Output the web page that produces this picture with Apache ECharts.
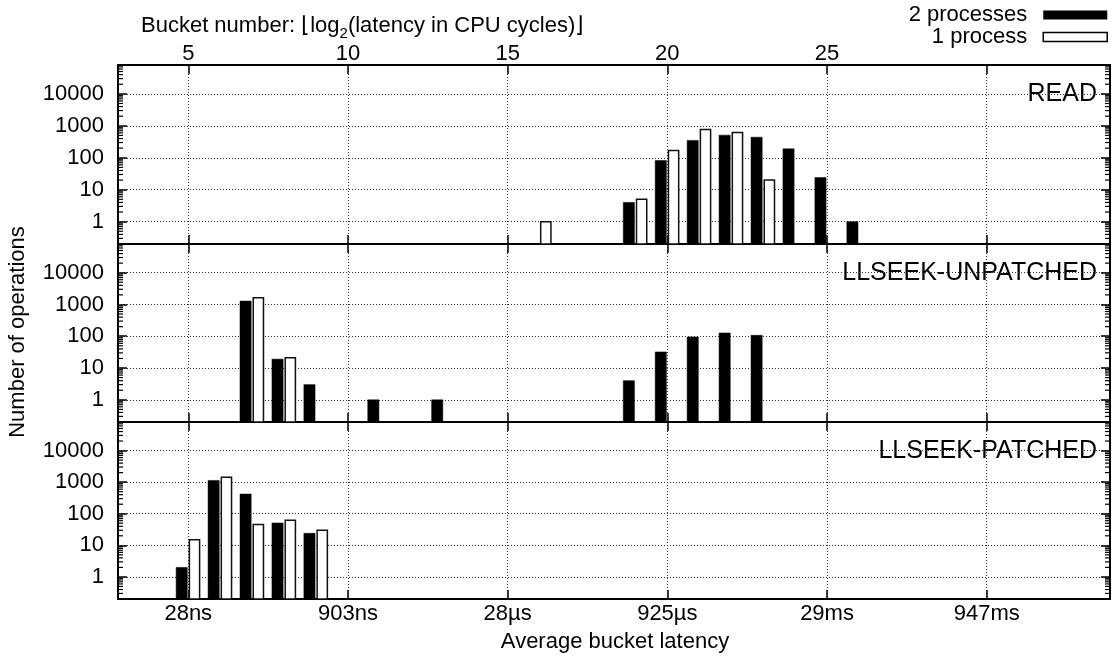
<!DOCTYPE html>
<html>
<head>
<meta charset="utf-8">
<script src="https://cdn.jsdelivr.net/npm/echarts@6/dist/echarts.min.js"></script>
<style>
  html, body { margin: 0; padding: 0; background: #fff; }
  #chart { width: 1114px; height: 657px; }
</style>
</head>
<body>
<div id="chart"></div>
<script>
// Operation counts per latency bucket (bucket = floor(log2(cycles)))
const PANEL_NAMES = ['READ', 'LLSEEK-UNPATCHED', 'LLSEEK-PATCHED'];

const READ_2P_BUCKETS = [19, 20, 21, 22, 23, 24, 25, 26];
const READ_2P_COUNTS  = [4, 82, 350, 510, 440, 190, 24, 1];
const READ_1P_BUCKETS = [16, 19, 20, 21, 22, 23];
const READ_1P_COUNTS  = [1, 5, 170, 770, 620, 20];

const UNPATCHED_2P_BUCKETS = [7, 8, 9, 11, 13, 19, 20, 21, 22, 23];
const UNPATCHED_2P_COUNTS  = [1280, 19, 3, 1, 1, 4, 32, 95, 127, 107];
const UNPATCHED_1P_BUCKETS = [7, 8];
const UNPATCHED_1P_COUNTS  = [1620, 21];

const PATCHED_2P_BUCKETS = [5, 6, 7, 8, 9];
const PATCHED_2P_COUNTS  = [2, 1130, 420, 51, 24];
const PATCHED_1P_BUCKETS = [5, 6, 7, 8, 9];
const PATCHED_1P_COUNTS  = [15, 1440, 46, 62, 30];

// Axis ticks and labels
const BUCKET_TICKS = [5, 10, 15, 20, 25, 30];
const BUCKET_LABELS = [5, 10, 15, 20, 25];
const LATENCY_LABELS = ['28ns', '903ns', '28\u00b5s', '925\u00b5s', '29ms', '947ms'];
const COUNT_TICKS = [1, 10, 100, 1000, 10000];
const MINOR_STEPS = [2, 3, 4, 5, 6, 7, 8, 9];
const DECADES = [0.1, 1, 10, 100, 1000, 10000];

const SERIES_2P = '2 processes';
const SERIES_1P = '1 process';

// ---- layout ----
const FONT = "'Liberation Sans', Arial, Helvetica, sans-serif";
const X_MIN = 2.8, X_MAX = 33.86;
const Y_MIN = 0.2, Y_MAX = 80000;
const PANEL_TOP = [65, 244, 422];
const PANEL_H = [179, 178, 177];
const PLOT_LEFT = 118, PLOT_RIGHT = 4;

const zip = (a, b) => a.map((v, i) => [v, b[i]]);
const panelData = [
  [zip(READ_2P_BUCKETS, READ_2P_COUNTS), zip(READ_1P_BUCKETS, READ_1P_COUNTS)],
  [zip(UNPATCHED_2P_BUCKETS, UNPATCHED_2P_COUNTS), zip(UNPATCHED_1P_BUCKETS, UNPATCHED_1P_COUNTS)],
  [zip(PATCHED_2P_BUCKETS, PATCHED_2P_COUNTS), zip(PATCHED_1P_BUCKETS, PATCHED_1P_COUNTS)]
];

// Bars sit on either side of the bucket position, rising from the panel floor
function barRenderer(lo, hi, style) {
  return function (params, api) {
    const b = api.value(0), c = api.value(1);
    const p0 = api.coord([b + lo, c]);
    const p1 = api.coord([b + hi, Y_MIN]);
    return {
      type: 'rect',
      shape: { x: p0[0], y: p0[1], width: p1[0] - p0[0], height: p1[1] - p0[1] },
      style: style
    };
  };
}

// Short log-scale minor ticks on the left and right frame edges
function minorTickRenderer(params, api) {
  const children = [];
  DECADES.forEach(d => {
    MINOR_STEPS.forEach(m => {
      const v = d * m;
      if (v <= Y_MIN || v >= Y_MAX) return;
      const l = api.coord([X_MIN, v]);
      const r = api.coord([X_MAX, v]);
      children.push({ type: 'line', shape: { x1: l[0], y1: l[1], x2: l[0] + 5, y2: l[1] }, style: { stroke: '#000', lineWidth: 1.2 } });
      children.push({ type: 'line', shape: { x1: r[0] - 5, y1: r[1], x2: r[0], y2: r[1] }, style: { stroke: '#000', lineWidth: 1.2 } });
    });
  });
  return { type: 'group', children: children };
}

const grids = [], xAxes = [], yAxes = [], series = [], graphics = [];
const tickStyle = { color: '#000', width: 1.5 };
const dotted = { color: '#333', width: 1, type: [1, 2] };

for (let i = 0; i < 3; i++) {
  grids.push({
    left: PLOT_LEFT, right: PLOT_RIGHT, top: PANEL_TOP[i], height: PANEL_H[i],
    show: true, borderColor: '#000', borderWidth: 2, backgroundColor: 'transparent'
  });
  // bottom x axis (latency labels on the last panel)
  xAxes.push({
    type: 'value', gridIndex: i, min: X_MIN, max: X_MAX, position: 'bottom',
    axisLine: { show: false },
    axisTick: { show: true, inside: true, length: 9, lineStyle: tickStyle, customValues: BUCKET_TICKS },
    axisLabel: {
      show: i === 2, customValues: BUCKET_TICKS, margin: 4,
      fontSize: 22, fontFamily: FONT, color: '#000',
      formatter: v => LATENCY_LABELS[BUCKET_TICKS.indexOf(v)] || ''
    },
    splitLine: { show: true, lineStyle: dotted }
  });
  // top x axis (bucket numbers on the first panel)
  xAxes.push({
    type: 'value', gridIndex: i, min: X_MIN, max: X_MAX, position: 'top',
    axisLine: { show: false },
    axisTick: { show: true, inside: true, length: 9, lineStyle: tickStyle, customValues: BUCKET_TICKS },
    axisLabel: {
      show: i === 0, customValues: BUCKET_LABELS, margin: 0,
      fontSize: 22, fontFamily: FONT, color: '#000',
      formatter: v => String(v)
    },
    splitLine: { show: false }
  });
  // left y axis
  yAxes.push({
    type: 'log', logBase: 10, gridIndex: i, min: Y_MIN, max: Y_MAX, position: 'left',
    axisLine: { show: false },
    axisTick: { show: true, inside: true, length: 9, lineStyle: tickStyle, customValues: COUNT_TICKS },
    axisLabel: {
      show: true, customValues: COUNT_TICKS, margin: 14,
      fontSize: 22, fontFamily: FONT, color: '#000',
      formatter: v => String(v)
    },
    splitLine: { show: true, lineStyle: dotted },
    minorTick: { show: false }
  });
  // right y axis (mirrored ticks)
  yAxes.push({
    type: 'log', logBase: 10, gridIndex: i, min: Y_MIN, max: Y_MAX, position: 'right',
    axisLine: { show: false },
    axisTick: { show: true, inside: true, length: 9, lineStyle: tickStyle, customValues: COUNT_TICKS },
    axisLabel: { show: false },
    splitLine: { show: false }
  });

  const [d2, d1] = panelData[i];
  series.push({
    type: 'custom', name: SERIES_2P, xAxisIndex: 2 * i, yAxisIndex: 2 * i,
    renderItem: barRenderer(-0.38, -0.03, { fill: '#000', stroke: '#000', lineWidth: 0.5 }),
    encode: { x: 0, y: 1 }, data: d2, itemStyle: { color: '#000' }, z: 3
  });
  series.push({
    type: 'custom', name: SERIES_1P, xAxisIndex: 2 * i, yAxisIndex: 2 * i,
    renderItem: barRenderer(0.035, 0.355, { fill: '#fff', stroke: '#111', lineWidth: 1.5 }),
    encode: { x: 0, y: 1 }, data: d1, itemStyle: { color: '#fff' }, z: 3
  });
  series.push({
    type: 'custom', xAxisIndex: 2 * i, yAxisIndex: 2 * i, silent: true,
    renderItem: minorTickRenderer, data: [[X_MIN, 1]], z: 1
  });

  graphics.push({
    type: 'text', x: 1097, y: PANEL_TOP[i] + 29,
    style: { text: PANEL_NAMES[i], fontSize: 25, fontFamily: FONT, fill: '#000', align: 'right', verticalAlign: 'middle' }
  });
}

// axis titles
graphics.push({
  type: 'text', left: 141, top: 10,
  style: {
    text: '{a|Bucket number: \u230alog}{s|2}{a|(latency in CPU cycles)\u230b}',
    rich: {
      a: { fontSize: 22, fontFamily: FONT, fill: '#000', lineHeight: 26 },
      s: { fontSize: 15, fontFamily: FONT, fill: '#000', lineHeight: 15, padding: [16, 0, 0, 0] }
    }
  }
});
graphics.push({
  type: 'text', x: 615, y: 642,
  style: { text: 'Average bucket latency', fontSize: 22, fontFamily: FONT, fill: '#000', align: 'center', verticalAlign: 'middle' }
});
graphics.push({
  type: 'text', x: 18, y: 332, rotation: Math.PI / 2,
  style: { text: 'Number of operations', fontSize: 22, fontFamily: FONT, fill: '#000', align: 'center', verticalAlign: 'middle' }
});

const chart = echarts.init(document.getElementById('chart'), null, { renderer: 'canvas' });
chart.setOption({
  animation: false,
  backgroundColor: '#fff',
  grid: grids,
  xAxis: xAxes,
  yAxis: yAxes,
  legend: {
    orient: 'vertical', right: 6, top: 4, align: 'right', itemGap: 0, padding: 0,
    itemWidth: 64, itemHeight: 9, selectedMode: false,
    textStyle: { fontSize: 22, fontFamily: FONT, color: '#000', lineHeight: 20, padding: [0, 11, 0, 0] },
    data: [
      { name: SERIES_2P, icon: 'rect', itemStyle: { color: '#000', borderWidth: 0 } },
      { name: SERIES_1P, icon: 'rect', itemStyle: { color: '#fff', borderColor: '#000', borderWidth: 1.5 } }
    ]
  },
  graphic: graphics,
  series: series
});
</script>
</body>
</html>
